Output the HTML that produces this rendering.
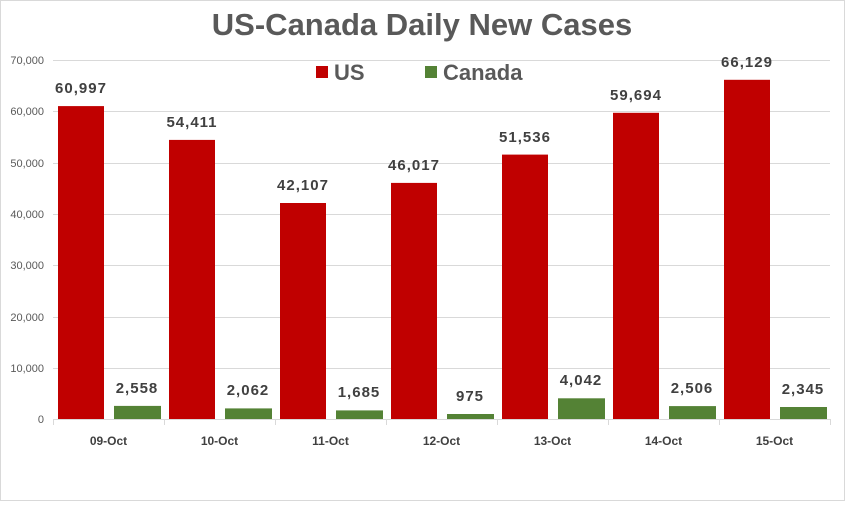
<!DOCTYPE html>
<html><head><style>body{margin:0;background:#fff}</style></head><body>
<svg width="845" height="501" xmlns="http://www.w3.org/2000/svg" font-family="Liberation Sans, sans-serif">
<rect x="0.5" y="0.5" width="844" height="500" fill="#fff" stroke="#d9d9d9"/>
<text x="422" y="35" text-anchor="middle" font-size="31" font-weight="bold" fill="#595959">US-Canada Daily New Cases</text>
<rect x="316" y="66" width="12" height="12" fill="#c00000"/>
<text x="334" y="80" font-size="22" font-weight="bold" fill="#595959">US</text>
<rect x="425" y="66" width="12" height="12" fill="#548235"/>
<text x="443" y="80" font-size="22" font-weight="bold" fill="#595959">Canada</text>
<g stroke="#d9d9d9" stroke-width="1">
<line x1="53" x2="830" y1="60.5" y2="60.5"/><line x1="53" x2="830" y1="111.5" y2="111.5"/>
<line x1="53" x2="830" y1="163.5" y2="163.5"/><line x1="53" x2="830" y1="214.5" y2="214.5"/>
<line x1="53" x2="830" y1="265.5" y2="265.5"/><line x1="53" x2="830" y1="317.5" y2="317.5"/>
<line x1="53" x2="830" y1="368.5" y2="368.5"/><line x1="53" x2="830" y1="419.5" y2="419.5"/>
<line x1="53.5" x2="53.5" y1="419" y2="425"/><line x1="164.5" x2="164.5" y1="419" y2="425"/>
<line x1="275.5" x2="275.5" y1="419" y2="425"/><line x1="386.5" x2="386.5" y1="419" y2="425"/>
<line x1="497.5" x2="497.5" y1="419" y2="425"/><line x1="608.5" x2="608.5" y1="419" y2="425"/>
<line x1="719.5" x2="719.5" y1="419" y2="425"/><line x1="830.5" x2="830.5" y1="419" y2="425"/>
</g>
<g font-size="11" fill="#595959" text-anchor="end">
<text x="44" y="64">70,000</text><text x="44" y="115">60,000</text><text x="44" y="167">50,000</text>
<text x="44" y="218">40,000</text><text x="44" y="269">30,000</text><text x="44" y="321">20,000</text>
<text x="44" y="372">10,000</text><text x="44" y="423">0</text>
</g>
<g fill="#c00000">
<rect x="58" y="106.1" width="46" height="312.9"/>
<rect x="169" y="139.9" width="46" height="279.1"/>
<rect x="280" y="203" width="46" height="216"/>
<rect x="391" y="182.9" width="46" height="236.1"/>
<rect x="502" y="154.6" width="46" height="264.4"/>
<rect x="613" y="112.8" width="46" height="306.2"/>
<rect x="724" y="79.8" width="46" height="339.2"/>
</g>
<g fill="#548235">
<rect x="114" y="405.9" width="47" height="13.1"/>
<rect x="225" y="408.4" width="47" height="10.6"/>
<rect x="336" y="410.4" width="47" height="8.6"/>
<rect x="447" y="414" width="47" height="5"/>
<rect x="558" y="398.3" width="47" height="20.7"/>
<rect x="669" y="406.1" width="47" height="12.9"/>
<rect x="780" y="407" width="47" height="12"/>
</g>
<g font-size="15" font-weight="bold" fill="#404040" text-anchor="middle" letter-spacing="1">
<text x="81" y="93">60,997</text>
<text x="192" y="127">54,411</text>
<text x="303" y="190">42,107</text>
<text x="414" y="170">46,017</text>
<text x="525" y="142">51,536</text>
<text x="636" y="100">59,694</text>
<text x="747" y="67">66,129</text>
<text x="137" y="393">2,558</text>
<text x="248" y="395">2,062</text>
<text x="359" y="397">1,685</text>
<text x="470" y="401">975</text>
<text x="581" y="385">4,042</text>
<text x="692" y="393">2,506</text>
<text x="803" y="394">2,345</text>
</g>
<g font-size="12" font-weight="bold" fill="#404040" text-anchor="middle">
<text x="108.5" y="445">09-Oct</text>
<text x="219.5" y="445">10-Oct</text>
<text x="330.5" y="445">11-Oct</text>
<text x="441.5" y="445">12-Oct</text>
<text x="552.5" y="445">13-Oct</text>
<text x="663.5" y="445">14-Oct</text>
<text x="774.5" y="445">15-Oct</text>
</g>
</svg>
</body></html>
